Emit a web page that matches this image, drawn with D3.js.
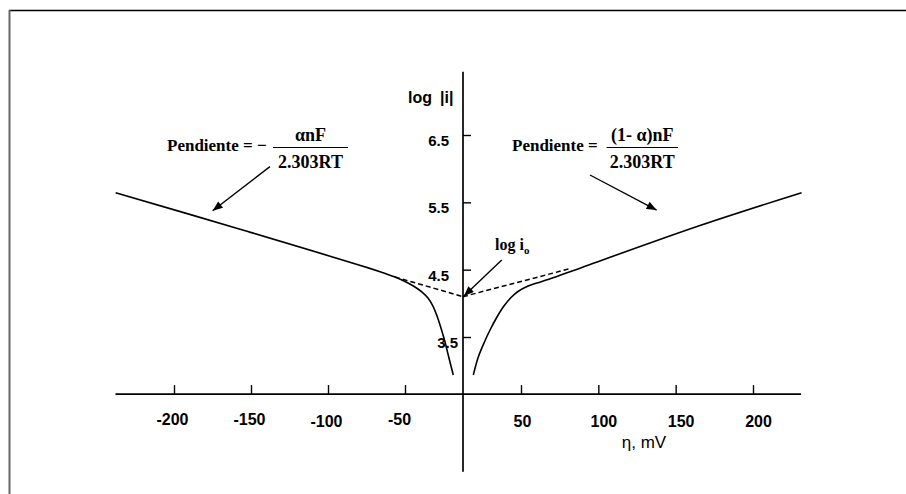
<!DOCTYPE html>
<html>
<head>
<meta charset="utf-8">
<script src="https://cdn.jsdelivr.net/npm/d3@7"></script>
<style>
  html, body { margin: 0; padding: 0; background: #fff; }
  svg { display: block; }
  .sans { font-family: "Liberation Sans", Arial, sans-serif; }
  .serif { font-family: "Liberation Serif", "Times New Roman", serif; }
</style>
</head>
<body>
<svg id="chart" width="906" height="494"></svg>
<script>
// ---- data ----
const etaTicks = [-200, -150, -100, -50, 50, 100, 150, 200];
const logTicks = [3.5, 4.5, 5.5, 6.5];
const etaTickLabels = ["-200", "-150", "-100", "-50", "50", "100", "150", "200"];
const logTickLabels = ["3.5", "4.5", "5.5", "6.5"];

// cathodic branch (eta < 0)
const cathodicEta = [-237.9, -157.1, -66.2, -56.5, -49.1, -41.4, -35.3, -30.2, -25.9, -22.4, -19.0, -15.5, -12.1, -8.4];
const cathodicLog = [5.643, 5.10, 4.47, 4.391, 4.317, 4.243, 4.168, 4.079, 3.960, 3.812, 3.634, 3.426, 3.188, 2.936];
// anodic branch (eta > 0)
const anodicEta = [8.9, 12.9, 18.1, 23.3, 29.3, 35.3, 41.4, 47.4, 53.9, 60.3, 67.5, 81.7, 165.7, 231.4];
const anodicLog = [2.936, 3.188, 3.411, 3.604, 3.797, 3.960, 4.087, 4.176, 4.250, 4.302, 4.354, 4.470, 5.156, 5.643];
// Tafel extrapolations to log i0
const extrapLeftEta = [-56.5, 0];
const extrapLeftLog = [4.391, 4.099];
const extrapRightEta = [0, 82.5];
const extrapRightLog = [4.099, 4.52];

const etaRange = [-238, 231];
const logRange = [1.5, 7.44];
const xAxisAt = 2.653;

// ---- scales ----
const svg = d3.select("#chart");
const x = d3.scaleLinear().domain([-200, -50, 50, 200]).range([174, 405, 521, 753]);
const y = d3.scaleLinear().domain([3.5, 6.5]).range([337, 135]);

// frame
svg.append("line").attr("x1", 9).attr("x2", 906).attr("y1", 10.5).attr("y2", 10.5)
  .attr("stroke", "#000").attr("stroke-width", 1.3);
svg.append("line").attr("x1", 9.5).attr("x2", 9.5).attr("y1", 10).attr("y2", 494)
  .attr("stroke", "#666").attr("stroke-width", 2);

// markers
const defs = svg.append("defs");
defs.append("marker").attr("id", "arrow")
  .attr("viewBox", "0 0 10 8").attr("refX", 10).attr("refY", 4)
  .attr("markerWidth", 11).attr("markerHeight", 8)
  .attr("markerUnits", "userSpaceOnUse").attr("orient", "auto")
  .append("path").attr("d", "M0,0 L10,4 L0,8 Z").attr("fill", "#000");

// axes lines
svg.append("line")
  .attr("x1", x(etaRange[0])).attr("x2", x(etaRange[1]))
  .attr("y1", y(xAxisAt)).attr("y2", y(xAxisAt))
  .attr("stroke", "#000").attr("stroke-width", 1.7);
svg.append("line")
  .attr("x1", x(0)).attr("x2", x(0))
  .attr("y1", y(logRange[1])).attr("y2", y(logRange[0]))
  .attr("stroke", "#000").attr("stroke-width", 1.7);

// x axis ticks + labels
const xDx = d => d < 0 ? (d === -50 ? -6 : -2) : (d === 50 ? 1 : 5);
const xAxis = d3.axisBottom(x).tickValues(etaTicks)
  .tickFormat((d, i) => etaTickLabels[i])
  .tickSizeInner(-9).tickSizeOuter(0).tickPadding(20);
const gx = svg.append("g").attr("transform", `translate(0,${y(xAxisAt)})`).call(xAxis);
gx.select(".domain").remove();
gx.selectAll(".tick line").attr("stroke", "#000").attr("stroke-width", 1.4);
gx.selectAll(".tick text")
  .attr("class", "sans").attr("fill", "#000")
  .style("font-size", "16px").style("font-weight", "bold")
  .attr("dx", xDx)
  .attr("dy", d => d < 0 ? (d === -100 ? "0.8em" : "0.66em") : "0.82em");

// y axis ticks + labels
const yAxis = d3.axisLeft(y).tickValues(logTicks)
  .tickFormat((d, i) => logTickLabels[i])
  .tickSizeInner(-8).tickSizeOuter(0).tickPadding(14);
const gy = svg.append("g").attr("transform", `translate(${x(0)},0)`).call(yAxis);
gy.select(".domain").remove();
gy.selectAll(".tick line").attr("stroke", "#000").attr("stroke-width", 1.4);
gy.selectAll(".tick text")
  .attr("class", "sans").attr("fill", "#000")
  .style("font-size", "15px").style("font-weight", "bold")
  .attr("dx", d => d === 3.5 ? 9 : 0)
  .attr("dy", "0.7em");

// curves
const line = d3.line().x(d => x(d[0])).y(d => y(d[1])).curve(d3.curveCatmullRom.alpha(0.5));
const straight = d3.line().x(d => x(d[0])).y(d => y(d[1]));
svg.append("path").datum(d3.zip(cathodicEta, cathodicLog))
  .attr("d", line).attr("fill", "none").attr("stroke", "#000").attr("stroke-width", 1.6);
svg.append("path").datum(d3.zip(anodicEta, anodicLog))
  .attr("d", line).attr("fill", "none").attr("stroke", "#000").attr("stroke-width", 1.6);
svg.append("path").datum(d3.zip(extrapLeftEta, extrapLeftLog))
  .attr("d", straight).attr("fill", "none").attr("stroke", "#000")
  .attr("stroke-width", 1.5).attr("stroke-dasharray", "5,3");
svg.append("path").datum(d3.zip(extrapRightEta, extrapRightLog))
  .attr("d", straight).attr("fill", "none").attr("stroke", "#000")
  .attr("stroke-width", 1.5).attr("stroke-dasharray", "5,3");

// axis titles
const ytitle = svg.append("text").attr("class", "sans")
  .attr("y", 103).style("font-size", "16px").style("font-weight", "bold");
ytitle.append("tspan").attr("x", 408).text("log");
ytitle.append("tspan").attr("x", 440).text("|i|");
svg.append("text").attr("class", "sans").attr("x", 644).attr("y", 448)
  .attr("text-anchor", "middle").style("font-size", "17px").text("η, mV");

// annotations
function fraction(cx, num, den) {
  svg.append("text").attr("class", "serif").attr("x", cx).attr("y", 141)
    .attr("text-anchor", "middle").style("font-size", "18px").style("font-weight", "bold").text(num);
  svg.append("text").attr("class", "serif").attr("x", cx).attr("y", 168)
    .attr("text-anchor", "middle").style("font-size", "18px").style("font-weight", "bold").text(den);
}
svg.append("text").attr("class", "serif").attr("x", 167).attr("y", 151)
  .style("font-size", "17px").style("font-weight", "bold").text("Pendiente = −");
svg.append("line").attr("x1", 273).attr("x2", 348).attr("y1", 147.5).attr("y2", 147.5)
  .attr("stroke", "#000").attr("stroke-width", 1.1);
fraction(310.5, "αnF", "2.303RT");

svg.append("text").attr("class", "serif").attr("x", 512).attr("y", 151)
  .style("font-size", "17px").style("font-weight", "bold").text("Pendiente =");
svg.append("line").attr("x1", 606.5).attr("x2", 678).attr("y1", 147.5).attr("y2", 147.5)
  .attr("stroke", "#000").attr("stroke-width", 1.1);
fraction(642.3, "(1- α)nF", "2.303RT");

// log i0 label
const io = svg.append("text").attr("class", "serif").attr("x", 495).attr("y", 250)
  .style("font-size", "16px").style("font-weight", "bold");
io.append("tspan").text("log i");
io.append("tspan").attr("dy", 4).style("font-size", "11px").text("o");

// arrows (in data coordinates)
const arrows = [
  [[-137.7, 6.03], [-174.9, 5.376]],
  [[94.6, 5.906], [137.7, 5.386]],
  [[33.4, 4.644], [0.8, 4.11]]
];
arrows.forEach(a => {
  svg.append("line")
    .attr("x1", x(a[0][0])).attr("y1", y(a[0][1]))
    .attr("x2", x(a[1][0])).attr("y2", y(a[1][1]))
    .attr("stroke", "#000").attr("stroke-width", 1.4)
    .attr("marker-end", "url(#arrow)");
});
</script>
</body>
</html>
